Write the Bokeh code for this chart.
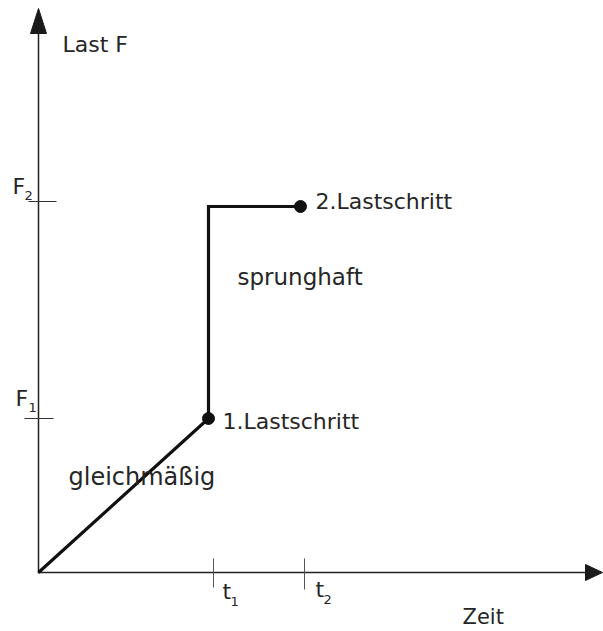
from bokeh.plotting import figure
from bokeh.models import Range1d
from bokeh.core.properties import value
from bokeh.embed import file_html
from bokeh.resources import INLINE

# --- data (pixel-like units, origin at axis corner) ---
# load path: linear rise to 1st load step, jump to 2nd load step
time = [0, 170, 170, 262]
load = [0, 154, 366, 366]
step_time = [170, 262]
step_load = [154, 366]
step_labels = ["1.Lastschritt", "2.Lastschritt"]

# axis tick marks
f_tick_pos = [154, 371]
f_tick_names = ["F", "F"]
f_tick_subs = ["1", "2"]
t_tick_pos = [175, 266]
t_tick_names = ["t", "t"]
t_tick_subs = ["1", "2"]

x_axis_end = 564
y_axis_end = 564
arrow_len = 17
arrow_half = 8

FONT = value("DejaVu Sans")
TXT = "#262626"
D = 9   # baseline correction for large text
d = 5   # baseline correction for subscripts

p = figure(width=603, height=631, x_range=Range1d(-38, 565), y_range=Range1d(-59, 572),
           x_axis_type=None, y_axis_type=None, toolbar_location=None,
           output_backend="svg", min_border=0, outline_line_color=None)
p.grid.visible = False

# axes
p.line([0, x_axis_end - arrow_len + 2], [0, 0], line_color="#222222", line_width=1.5)
p.line([0, 0], [-1, y_axis_end - arrow_len - 8 + 2], line_color="#222222", line_width=1.5)
p.patches(
    xs=[[x_axis_end - arrow_len, x_axis_end, x_axis_end - arrow_len],
        [-arrow_half, 0, arrow_half]],
    ys=[[-arrow_half, 0, arrow_half],
        [y_axis_end - arrow_len - 8, y_axis_end, y_axis_end - arrow_len - 8]],
    fill_color="#1a1a1a", line_color="#1a1a1a", line_width=1)

# tick marks
p.segment(x0=[-14, -10], x1=[15, 18], y0=f_tick_pos, y1=f_tick_pos,
          line_color="#333333", line_width=1)
p.segment(x0=t_tick_pos, x1=t_tick_pos, y0=[14, 14], y1=[-15, -17],
          line_color="#555555", line_width=1)

# load path
p.line(time, load, line_color="#111111", line_width=3.2, line_join="miter")
p.scatter(step_time, step_load, size=12, fill_color="#111111", line_color="#111111")

# tick labels
p.text(x=[-23, -26], y=[165 + D, 377 + D], text=f_tick_names, text_font=FONT,
       text_font_size="22px", text_color=TXT, text_baseline="alphabetic")
p.text(x=[-10, -14], y=[160 + d, 372 + d], text=f_tick_subs, text_font=FONT,
       text_font_size="13px", text_color=TXT, text_baseline="alphabetic")
p.text(x=[184, 277], y=[-28 + D, -26 + D], text=t_tick_names, text_font=FONT,
       text_font_size="22px", text_color=TXT, text_baseline="alphabetic")
p.text(x=[192, 285], y=[-34 + d, -32 + d], text=t_tick_subs, text_font=FONT,
       text_font_size="13px", text_color=TXT, text_baseline="alphabetic")

# labels
p.text(x=[24], y=[519 + D], text=["Last F"], text_font=FONT, text_font_size="22px",
       text_color=TXT, text_baseline="alphabetic")
p.text(x=[424], y=[-53 + D], text=["Zeit"], text_font=FONT, text_font_size="21px",
       text_color=TXT, text_baseline="alphabetic")
p.text(x=[184, 277], y=[142 + D, 362 + D], text=step_labels, text_font=FONT,
       text_font_size="22px", text_color=TXT, text_baseline="alphabetic")
p.text(x=[199], y=[287 + D], text=["sprunghaft"], text_font=FONT, text_font_size="23px",
       text_color=TXT, text_baseline="alphabetic")
p.text(x=[30], y=[87 + D], text=["gleichmäßig"], text_font=FONT, text_font_size="24px",
       text_color=TXT, text_baseline="alphabetic")

open("out.html", "w").write(file_html(p, INLINE))
